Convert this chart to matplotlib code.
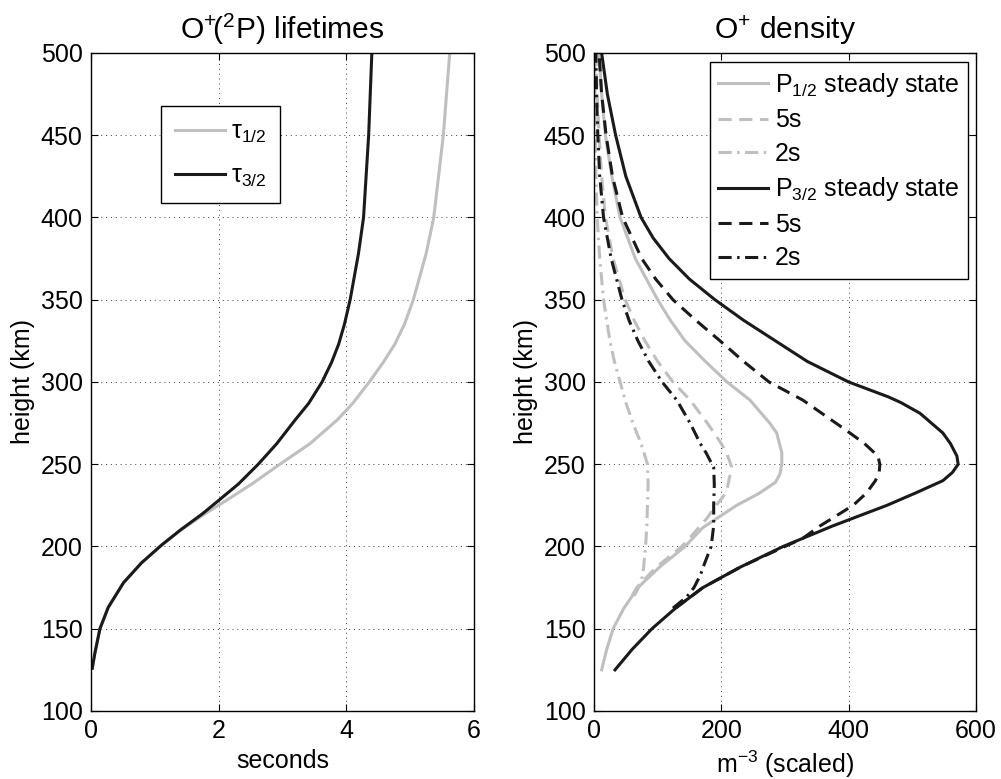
import matplotlib
matplotlib.use("Agg")
import matplotlib.pyplot as plt

plt.rcParams["font.family"] = ["Liberation Sans", "DejaVu Sans"]
plt.rcParams["mathtext.fontset"] = "custom"
plt.rcParams["mathtext.rm"] = "Liberation Sans"
plt.rcParams["mathtext.it"] = "Liberation Sans:italic"
plt.rcParams["mathtext.default"] = "regular"
plt.rcParams["font.size"] = 18

# ---- left panel: lifetimes (seconds) vs height (km)
h_tau = [126, 135, 150, 163, 178, 190, 201, 210, 220, 228, 238, 250, 262.5,
         277, 287, 300, 312, 323, 335, 350, 378, 400, 450, 500]
tau_12 = [0.02, 0.06, 0.14, 0.27, 0.51, 0.79, 1.11, 1.41, 1.79, 2.12, 2.52, 2.96, 3.43,
          3.86, 4.10, 4.36, 4.58, 4.76, 4.91, 5.05, 5.25, 5.37, 5.52, 5.62]
tau_32 = [0.02, 0.06, 0.14, 0.27, 0.51, 0.79, 1.11, 1.40, 1.75, 2.00, 2.31, 2.62, 2.91,
          3.20, 3.41, 3.62, 3.77, 3.88, 3.97, 4.06, 4.19, 4.27, 4.35, 4.40]

# ---- right panel: O+ density (scaled) vs height (km)
h_p12_ss = [125, 137.5, 150, 162.5, 175, 187.5, 200, 211.5, 225, 232, 239, 244, 250,
            257, 269, 275, 289, 300, 312.5, 325, 337.5, 350, 375, 400, 425, 450, 475, 500]
p12_ss = [12, 20, 30, 47, 69, 103, 143, 171, 224, 258, 285, 292, 295,
          295, 287, 276, 245, 209, 175, 143, 120, 100, 65, 41, 28, 18, 12, 8]

h_p12_5s = [170, 175, 187.5, 200, 205.5, 217, 225, 233, 244, 248.5, 253, 257, 262.5,
            270, 275, 289, 300, 312.5, 325, 337.5, 350, 375, 400, 425, 450, 475, 500]
p12_5s = [60, 67, 98, 138, 151, 177, 192, 208, 214, 216, 212, 208, 200,
          187, 178, 151, 124, 100, 80, 63, 49, 30, 18, 12, 8, 5, 3]

h_p12_2s = [170, 175, 180, 187.5, 200, 212.5, 225, 237.5, 250, 262.5, 275, 287.5,
            300, 312.5, 325, 337.5, 350, 375, 400, 425, 450, 475, 500]
p12_2s = [63, 70, 75, 78, 81, 83, 84, 85, 84, 74, 61, 50,
          41, 32, 25, 20, 15, 9, 5, 3, 2, 1.5, 1]

h_p32_ss = [125, 137.5, 150, 162.5, 175, 187.5, 200, 212.5, 225, 232.5, 240, 245, 250,
            255, 262.5, 269, 275, 281, 287.5, 291, 300, 312.5, 325, 337.5, 350, 362.5,
            375, 387.5, 400, 425, 450, 475, 500]
p32_ss = [33, 60, 91, 128, 171, 230, 297, 375, 460, 505, 548, 563, 572,
          570, 560, 548, 530, 512, 482, 462, 400, 335, 285, 235, 190, 150,
          118, 93, 74, 50, 34, 21, 12]

h_p32_5s = [162.5, 175, 187.5, 200, 205, 212.5, 225, 232.5, 240, 245, 250, 255, 262.5,
            269, 275, 289, 300, 312.5, 325, 337.5, 350, 362.5, 375, 400, 425, 450, 475, 500]
p32_5s = [128, 171, 230, 300, 328, 355, 407, 428, 442, 448, 449, 446, 425,
          402, 380, 328, 275, 235, 198, 160, 124, 97, 75, 45, 29, 19, 12, 8]

h_p32_2s = [162.5, 169.5, 175, 182.5, 190, 200, 212.5, 225, 237.5, 248, 257, 262.5,
            275, 289, 300, 312.5, 325, 337.5, 350, 375, 400, 425, 450, 475, 500]
p32_2s = [124, 146, 157, 167, 174, 184, 188, 188, 189, 188, 176, 167,
          151, 130, 107, 86, 69, 55, 44, 27, 15, 9, 6, 4, 3]

gray = "0.75"
black = "0.1"
lw = 2.2
dash = (0, (4.3, 2.5))
dashdot = (0, (4.3, 1.8, 0.8, 1.8))

fig = plt.figure(figsize=(10.01, 7.79), dpi=100)
ax1 = fig.add_axes([0.0909, 0.0873, 0.3826, 0.8447])
ax2 = fig.add_axes([0.5934, 0.0873, 0.3816, 0.8447])

ax1.plot(tau_12, h_tau, color=gray, lw=lw, label="τ$_{1/2}$")
ax1.plot(tau_32, h_tau, color=black, lw=lw, label="τ$_{3/2}$")
ax1.set_xlim(0, 6)
ax1.set_xticks([0, 2, 4, 6])
ax1.set_xlabel("seconds")
ax1.set_title(r"O$^{+}\!$($^{2}$P) lifetimes", pad=10)
leg1 = ax1.legend(loc="upper left", bbox_to_anchor=(0.183, 0.919), fancybox=False,
                  edgecolor="k", framealpha=1, handlelength=2.0, handletextpad=0.25,
                  borderpad=0.55, labelspacing=0.75, borderaxespad=0)
leg1.get_frame().set_linewidth(1.0)

ax2.plot(p12_ss, h_p12_ss, color=gray, lw=lw, label="P$_{1/2}$ steady state")
ax2.plot(p12_5s, h_p12_5s, color=gray, lw=lw, ls=dash, label="5s")
ax2.plot(p12_2s, h_p12_2s, color=gray, lw=lw, ls=dashdot, label="2s")
ax2.plot(p32_ss, h_p32_ss, color=black, lw=lw, label="P$_{3/2}$ steady state")
ax2.plot(p32_5s, h_p32_5s, color=black, lw=lw, ls=dash, label="5s")
ax2.plot(p32_2s, h_p32_2s, color=black, lw=lw, ls=dashdot, label="2s")
ax2.set_xlim(0, 600)
ax2.set_xticks([0, 200, 400, 600])
ax2.set_xlabel("m$^{-3}$ (scaled)")
ax2.set_title("O$^{+}$ density", pad=10)
leg2 = ax2.legend(loc="upper right", bbox_to_anchor=(0.979, 0.986), fancybox=False,
                  edgecolor="k", framealpha=1, handlelength=2.0, handletextpad=0.25,
                  borderpad=0.35, labelspacing=0.38, borderaxespad=0)
leg2.get_frame().set_linewidth(1.0)

for ax in (ax1, ax2):
    ax.set_ylim(100, 500)
    ax.set_yticks(range(100, 501, 50))
    ax.set_ylabel("height (km)")
    ax.grid(True, color="0.25", lw=0.7, ls=(0, (1, 4)))
    ax.tick_params(direction="in", top=True, right=True, length=5, width=0.8, pad=6)
    for s in ax.spines.values():
        s.set_linewidth(1.0)

fig.savefig("out.png", dpi=100)
